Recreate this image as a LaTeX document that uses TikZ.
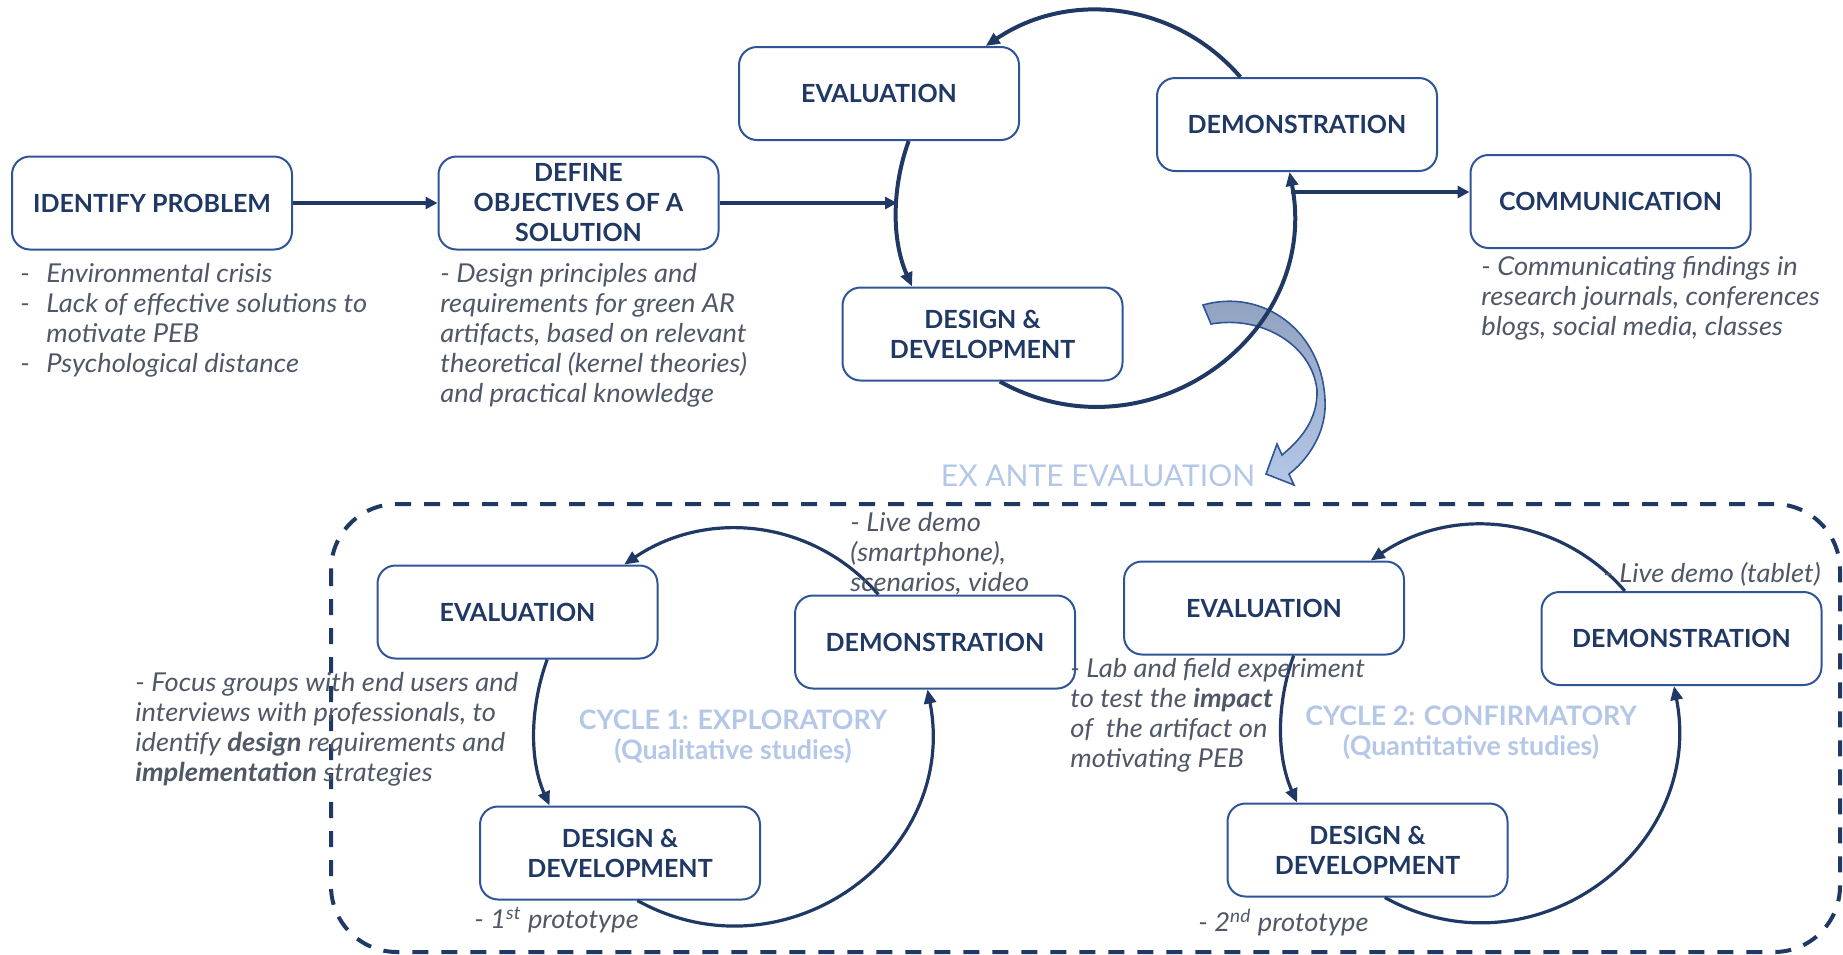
\documentclass[tikz,border=0pt]{standalone}
\usepackage{fontspec}
\setmainfont{Lato}
\newfontfamily\notefont[FakeStretch=1.05]{Lato}
\usetikzlibrary{arrows.meta}
\definecolor{navy}{HTML}{1F3864}
\definecolor{boxblue}{HTML}{2F5597}
\definecolor{notegrey}{HTML}{505868}
\definecolor{paleblue}{HTML}{B4C7E7}
\definecolor{arrowgrey}{HTML}{8FA0BD}

\tikzset{
  stage/.style={draw=boxblue, line width=1pt, rounded corners=9pt, fill=white,
    minimum width=140pt, minimum height=46.5pt, inner sep=2pt, align=center,
    text=navy, font=\bfseries\fontsize{12.5}{15}\selectfont},
  note/.style={anchor=north west, inner sep=0pt, align=left, text=notegrey,
    font=\notefont\itshape\fontsize{13}{15}\selectfont},
  cyclabel/.style={text=paleblue, align=center, font=\bfseries\fontsize{13.4}{15}\selectfont},
  flow/.style={draw=navy, line width=2pt, -{Triangle[length=6pt,width=6pt]}},
  loopline/.style={draw=navy, line width=#1, -{Triangle[length=7pt,width=6pt]}}
}

\begin{document}
\begin{tikzpicture}[x=0.5pt,y=-0.5pt]
 \useasboundingbox (0,0) rectangle (1843,954);

 % Marco ex ante
 \draw[navy, line width=2pt, dash pattern=on 8pt off 6.5pt, rounded corners=33pt]
   (331,504) rectangle (1840,952);

 % Flecha curva
 \shadedraw[top color=arrowgrey, bottom color=paleblue, draw=boxblue, line width=0.8pt]
   (1203,305) .. controls (1262,288) and (1322,330) .. (1325,400)
   .. controls (1327,435) and (1305,462) .. (1289,474)
   -- (1294,485) -- (1266,474) -- (1277,444) -- (1282,455)
   .. controls (1300,440) and (1318,420) .. (1317,390)
   .. controls (1312,345) and (1262,315) .. (1211,324) -- cycle;
 \node[text=paleblue, font=\fontsize{15}{18}\selectfont] (exante) at (1098,476) {EX ANTE EVALUATION};

 % Fila superior
 \node[stage] (idp)  at (152,203)    {IDENTIFY PROBLEM};
 \node[stage] (dos)  at (578.5,203)  {DEFINE\\OBJECTIVES OF A\\SOLUTION};
 \node[stage] (comm) at (1610.5,201.5) {COMMUNICATION};
 \node[stage] (eva0) at (879,93.5)   {EVALUATION};
 \node[stage] (dem0) at (1297,124.5) {DEMONSTRATION};
 \node[stage] (des0) at (982.5,334)  {DESIGN \&\\DEVELOPMENT};

 % Ciclo 1
 \node[stage] (eva1) at (517.5,612) {EVALUATION};
 \node[stage] (dem1) at (935,642)   {DEMONSTRATION};
 \node[stage] (des1) at (620,853)   {DESIGN \&\\DEVELOPMENT};

 % Ciclo 2
 \node[stage] (eva2) at (1264,608)    {EVALUATION};
 \node[stage] (dem2) at (1681.5,638.5) {DEMONSTRATION};
 \node[stage] (des2) at (1367.5,850)  {DESIGN \&\\DEVELOPMENT};

 % Flechas rectas
 \coordinate (topin)  at (897,203);
 \coordinate (topout) at (1291,192);
 \draw[flow] (idp) -- (dos);
 \draw[flow] (dos) -- (topin);
 \draw[flow] (topout) -- (comm.west |- topout);

 % Ciclos
 \foreach \c/\w in {0/2pt,1/1.6pt,2/1.6pt} {
  \draw[loopline=\w] (dem\c.140) to[out=131,in=34] (eva\c.24);
  \draw[loopline=\w] (eva\c.302) to[out=250,in=114,looseness=0.88] (des\c.146);
  \draw[loopline=\w] (des\c.290) to[out=331,in=281,looseness=1.2] (dem\c.261);
 }

 % Etiquetas de ciclo
 \node[cyclabel] (lbl1) at (733,737)  {CYCLE 1: EXPLORATORY\\(Qualitative studies)};
 \node[cyclabel] (lbl2) at (1471,733) {CYCLE 2: CONFIRMATORY\\(Quantitative studies)};

 % Notas
 \node[note] (n-idp) at (20,261) {\strut\makebox[13pt][l]{-}Environmental crisis\\
   \makebox[13pt][l]{-}Lack of effective solutions to\\
   \hspace*{13pt}motivate PEB\\
   \makebox[13pt][l]{-}Psychological distance};
 \node[note] (n-dos) at (440,261) {\strut- Design principles and\\requirements for green AR\\
   artifacts, based on relevant\\theoretical (kernel theories)\\and practical knowledge};
 \node[note] (n-comm) at (1481,254) {\strut- Communicating findings in\\
   research journals, conferences\\blogs, social media, classes};
 \node[note] (n-eva1) at (135,670) {\strut- Focus groups with end users and\\
   interviews with professionals, to\\identify \textbf{design} requirements and\\
   \textbf{implementation} strategies};
 \node[note] (n-dem1) at (850,510) {\strut- Live demo\\(smartphone),\\scenarios, video};
 \node[note] (n-des1) at (474,907) {\strut- 1\textsuperscript{st} prototype};
 \node[note] (n-eva2) at (1070,656) {\strut- Lab and field experiment\\to test the \textbf{impact}\\
   of~ the artifact on\\motivating PEB};
 \node[note] (n-des2) at (1198,909) {\strut- 2\textsuperscript{nd} prototype};
 \node[note] (n-dem2) at (1603,561) {\strut- Live demo (tablet)};
\end{tikzpicture}
\end{document}
